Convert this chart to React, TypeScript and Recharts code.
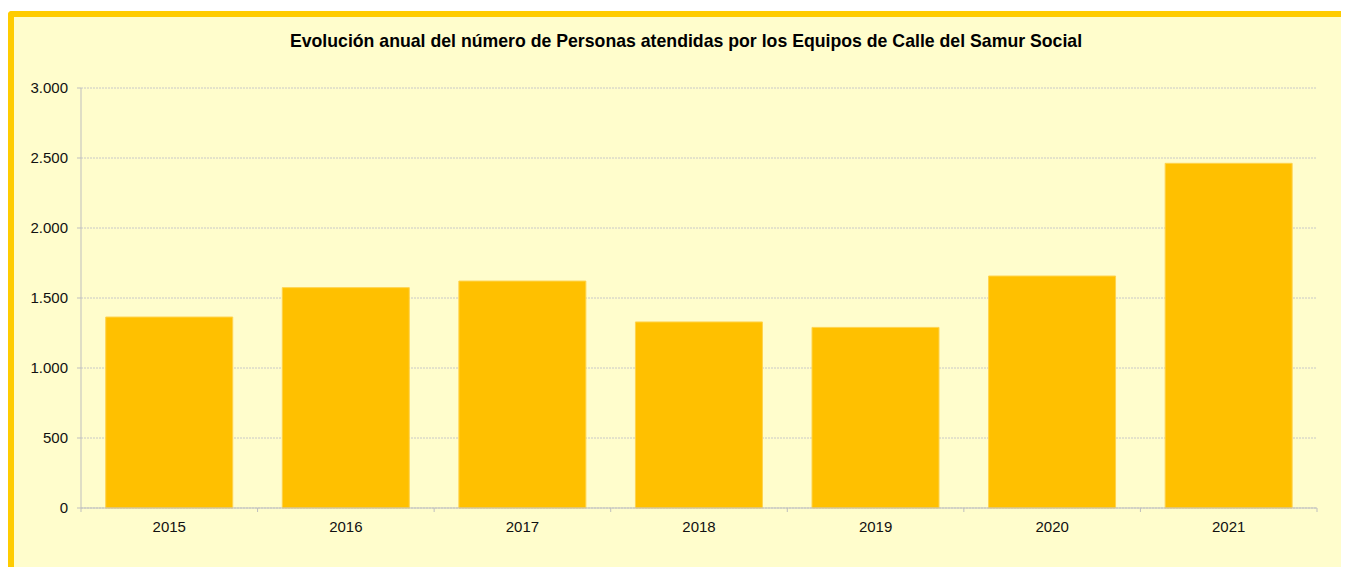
import React from "react";
import { BarChart, Bar, XAxis, YAxis, CartesianGrid } from "recharts";

const years = ["2015", "2016", "2017", "2018", "2019", "2020", "2021"];
const personas = [1364, 1574, 1621, 1329, 1290, 1657, 2462];
const yTicks = [0, 500, 1000, 1500, 2000, 2500, 3000];
const title = "Evolución anual del número de Personas atendidas por los Equipos de Calle del Samur Social";

const data = years.map((y, i) => ({ year: y, value: personas[i] }));

const fmt = (v: number) => v.toString().replace(/\B(?=(\d{3})+(?!\d))/g, ".");

const FONT = "'Liberation Sans', Arial, sans-serif";
const AXIS = "#BFBFBF";

const XTick = (props: any) => {
  const { x, y, payload, index } = props;
  const half = payload && payload.offset ? payload.offset : 88.3;
  const axisY = y - 13;
  return (
    <g>
      <line x1={x - half} x2={x - half} y1={axisY} y2={axisY + 4} stroke={AXIS} />
      {index === years.length - 1 && (
        <line x1={x + half} x2={x + half} y1={axisY} y2={axisY + 4} stroke={AXIS} />
      )}
      <text x={x} y={y} dy="0.71em" textAnchor="middle" fontSize={15} fontFamily={FONT} fill="#111">
        {payload.value}
      </text>
    </g>
  );
};

export default function App() {
  return (
    <div
      style={{
        position: "relative",
        top: 3,
        width: 1341,
        height: 560,
        boxSizing: "border-box",
        borderTop: "6px solid #FFCC00",
        borderLeft: "6px solid #FFCC00",
        borderTopLeftRadius: 4,
        background: "#FFFDCC",
        overflow: "hidden",
      }}
    >
      <div
        style={{
          position: "absolute",
          left: 0,
          top: 14,
          width: 1344,
          textAlign: "center",
          fontFamily: FONT,
          fontWeight: "bold",
          fontSize: 17.7,
          lineHeight: "20px",
          color: "#000",
          whiteSpace: "nowrap",
        }}
      >
        {title}
      </div>
      <div style={{ position: "absolute", left: 0, top: 0 }}>
        <BarChart
          width={1335}
          height={550}
          data={data}
          margin={{ top: 71, right: 32, bottom: 29, left: 0 }}
          barCategoryGap="14%"
        >
          <CartesianGrid vertical={false} stroke="#C8C8C8" strokeDasharray="2 1" />
          <XAxis
            dataKey="year"
            height={30}
            stroke={AXIS}
            tickLine={false}
            tickSize={4}
            tickMargin={9}
            tick={<XTick />}
            interval={0}
          />
          <YAxis
            width={67}
            domain={[0, 3000]}
            ticks={yTicks}
            tickFormatter={fmt}
            stroke={AXIS}
            tickSize={4}
            tickMargin={9}
            interval={0}
            tick={{ fontSize: 15, fontFamily: FONT, fill: "#111" }}
          />
          <Bar dataKey="value" fill="#FFC000" stroke="#FFD34D" strokeWidth={1} isAnimationActive={false} />
        </BarChart>
      </div>
    </div>
  );
}
